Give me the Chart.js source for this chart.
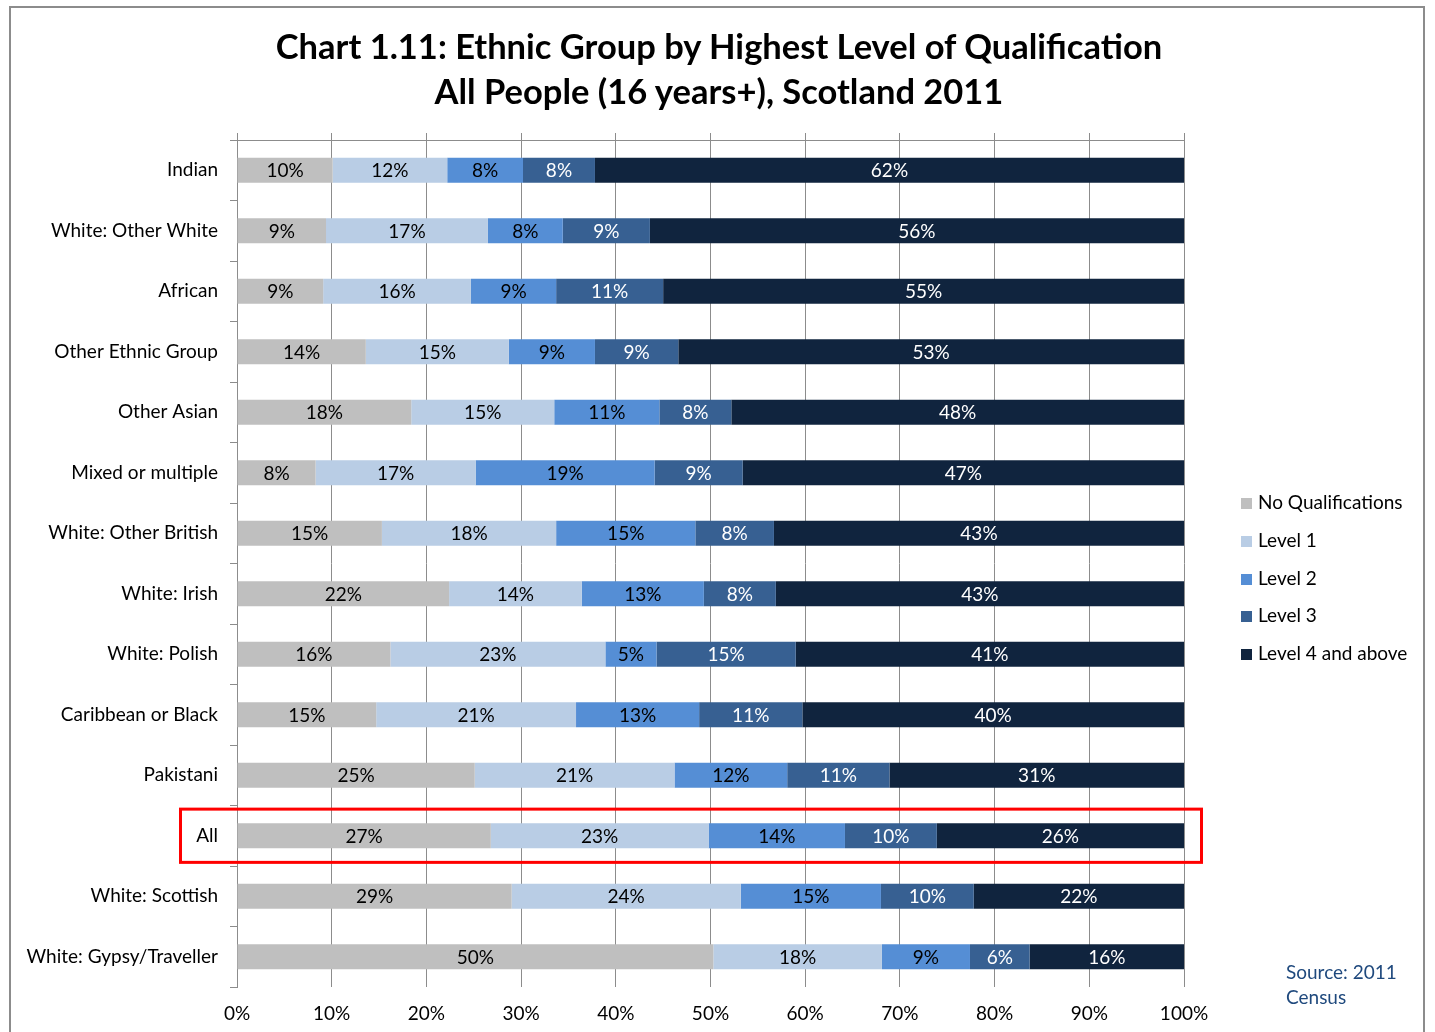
<!DOCTYPE html>
<html>
<head>
<meta charset="utf-8">
<script src="https://cdn.jsdelivr.net/npm/chart.js@4.4.1/dist/chart.umd.min.js"></script>
<style>
  html, body { margin: 0; padding: 0; background: #fff; }
  #wrap { position: relative; width: 1435px; height: 1032px; overflow: hidden; font-family: Lato, "Liberation Sans", sans-serif; }
  #frame { position: absolute; left: 9px; top: 6px; width: 1416px; height: 1040px; border: 2px solid #8c8c8c; box-sizing: border-box; }
  canvas { position: absolute; left: 0; top: 0; }
  #title { position: absolute; left: 0; width: 1438px; top: 23px; text-align: center; font-weight: bold; font-size: 34.5px; line-height: 45px; color: #000; }
  #legend { position: absolute; left: 1241px; top: 490px; font-size: 19px; color: #000; }
  #legend div { height: 37.75px; display: flex; align-items: flex-start; white-space: nowrap; }
  #legend span.sw { display: inline-block; width: 11px; height: 11px; margin-right: 6px; margin-top: 8px; }
  #source { position: absolute; left: 1286px; top: 959px; font-size: 19px; line-height: 25px; color: #1F497D; }
</style>
</head>
<body>
<div id="wrap">
  <div id="frame"></div>
  <canvas id="c" width="1435" height="1032"></canvas>
  <div id="title">Chart 1.11: Ethnic Group by Highest Level of Qualification<br>All People (16 years+), Scotland 2011</div>
  <div id="legend"></div>
  <div id="source">Source: 2011<br>Census</div>
</div>
<script>
const categories = ["Indian","White: Other White","African","Other Ethnic Group","Other Asian","Mixed or multiple","White: Other British","White: Irish","White: Polish","Caribbean or Black","Pakistani","All","White: Scottish","White: Gypsy/Traveller"];
const seriesNames = ["No Qualifications","Level 1","Level 2","Level 3","Level 4 and above"];
const noQualifications = [10.1, 9.4, 9.1, 13.6, 18.4, 8.3, 15.3, 22.4, 16.2, 14.7, 25.1, 26.8, 29.0, 50.3];
const level1 = [12.1, 17.1, 15.6, 15.1, 15.1, 16.9, 18.4, 14.0, 22.7, 21.1, 21.1, 23.0, 24.2, 17.8];
const level2 = [8.0, 7.9, 9.0, 9.1, 11.1, 18.9, 14.7, 12.9, 5.4, 13.0, 11.9, 14.4, 14.8, 9.3];
const level3 = [7.6, 9.2, 11.3, 8.8, 7.6, 9.3, 8.3, 7.6, 14.7, 10.9, 10.8, 9.7, 9.8, 6.3];
const level4 = [62.2, 56.4, 55.0, 53.4, 47.8, 46.6, 43.3, 43.1, 41.0, 40.3, 31.1, 26.1, 22.2, 16.3];
const xTicks = [0, 10, 20, 30, 40, 50, 60, 70, 80, 90, 100];
const highlightCategory = "All";

const colors = ["#BFBFBF", "#B9CDE5", "#558ED5", "#376092", "#10243E"];
const labelColors = ["#000", "#000", "#000", "#fff", "#fff"];
const seriesData = [noQualifications, level1, level2, level3, level4];
const FONT = "Lato, 'Liberation Sans', sans-serif";
const GRID = "#8c8c8c";

const datasets = seriesNames.map((n, i) => ({
  label: n,
  data: seriesData[i],
  backgroundColor: colors[i],
  borderWidth: 0,
  barPercentage: 0.41,
  categoryPercentage: 1.0
}));

const labelPlugin = {
  id: 'segLabels',
  afterDatasetsDraw(chart) {
    const ctx = chart.ctx;
    ctx.save();
    ctx.font = "19px " + FONT;
    ctx.textAlign = "center";
    ctx.textBaseline = "middle";
    chart.data.datasets.forEach((ds, di) => {
      const meta = chart.getDatasetMeta(di);
      ctx.fillStyle = labelColors[di];
      meta.data.forEach((el, i) => {
        const cx = (el.x + el.base) / 2;
        ctx.fillText(Math.round(ds.data[i]) + "%", cx, el.y + 1);
      });
    });
    // highlight box around the "All" row
    const yS = chart.scales.y;
    const idx = categories.indexOf(highlightCategory);
    const yc = yS.getPixelForValue(idx);
    const half = (yS.getPixelForValue(1) - yS.getPixelForValue(0)) * 0.44;
    ctx.strokeStyle = "#FF0000";
    ctx.lineWidth = 3;
    ctx.strokeRect(180.5, yc - half, 1021, half * 2);
    ctx.restore();
  }
};

new Chart(document.getElementById('c'), {
  type: 'bar',
  data: { labels: categories, datasets },
  plugins: [labelPlugin],
  options: {
    indexAxis: 'y',
    responsive: false,
    animation: false,
    layout: { padding: { left: 0, right: 251, top: 133, bottom: 5 } },
    plugins: { legend: { display: false }, title: { display: false }, tooltip: { enabled: false } },
    scales: {
      x: {
        type: 'linear', stacked: true, min: 0, max: 100, position: 'bottom',
        afterBuildTicks(s) { s.ticks = xTicks.map(v => ({ value: v })); },
        afterFit(s) { s.height = 40; },
        ticks: { callback: v => v + "%", color: "#000", font: { size: 19, family: FONT }, padding: 15, maxRotation: 0 },
        grid: { color: GRID, lineWidth: 1, drawTicks: false },
        border: { display: false }
      },
      xTop: {
        type: 'linear', axis: 'x', position: 'top', min: 0, max: 100,
        afterBuildTicks(s) { s.ticks = xTicks.map(v => ({ value: v })); },
        afterFit(s) { s.height = 7; },
        ticks: { display: false },
        grid: { drawOnChartArea: false, drawTicks: true, tickLength: 7, color: GRID, lineWidth: 1 },
        border: { display: true, color: GRID, width: 1 }
      },
      y: {
        stacked: true,
        afterFit(s) { s.width = 237; },
        ticks: { color: "#000", font: { size: 19, family: FONT }, padding: 12 },
        grid: { drawOnChartArea: false, drawTicks: true, tickLength: 7, color: GRID, lineWidth: 1, offset: true },
        border: { display: true, color: GRID, width: 1 }
      }
    }
  }
});

const leg = document.getElementById('legend');
seriesNames.forEach((n, i) => {
  const d = document.createElement('div');
  d.innerHTML = '<span class="sw" style="background:' + colors[i] + '"></span>' + n;
  leg.appendChild(d);
});
</script>
</body>
</html>
